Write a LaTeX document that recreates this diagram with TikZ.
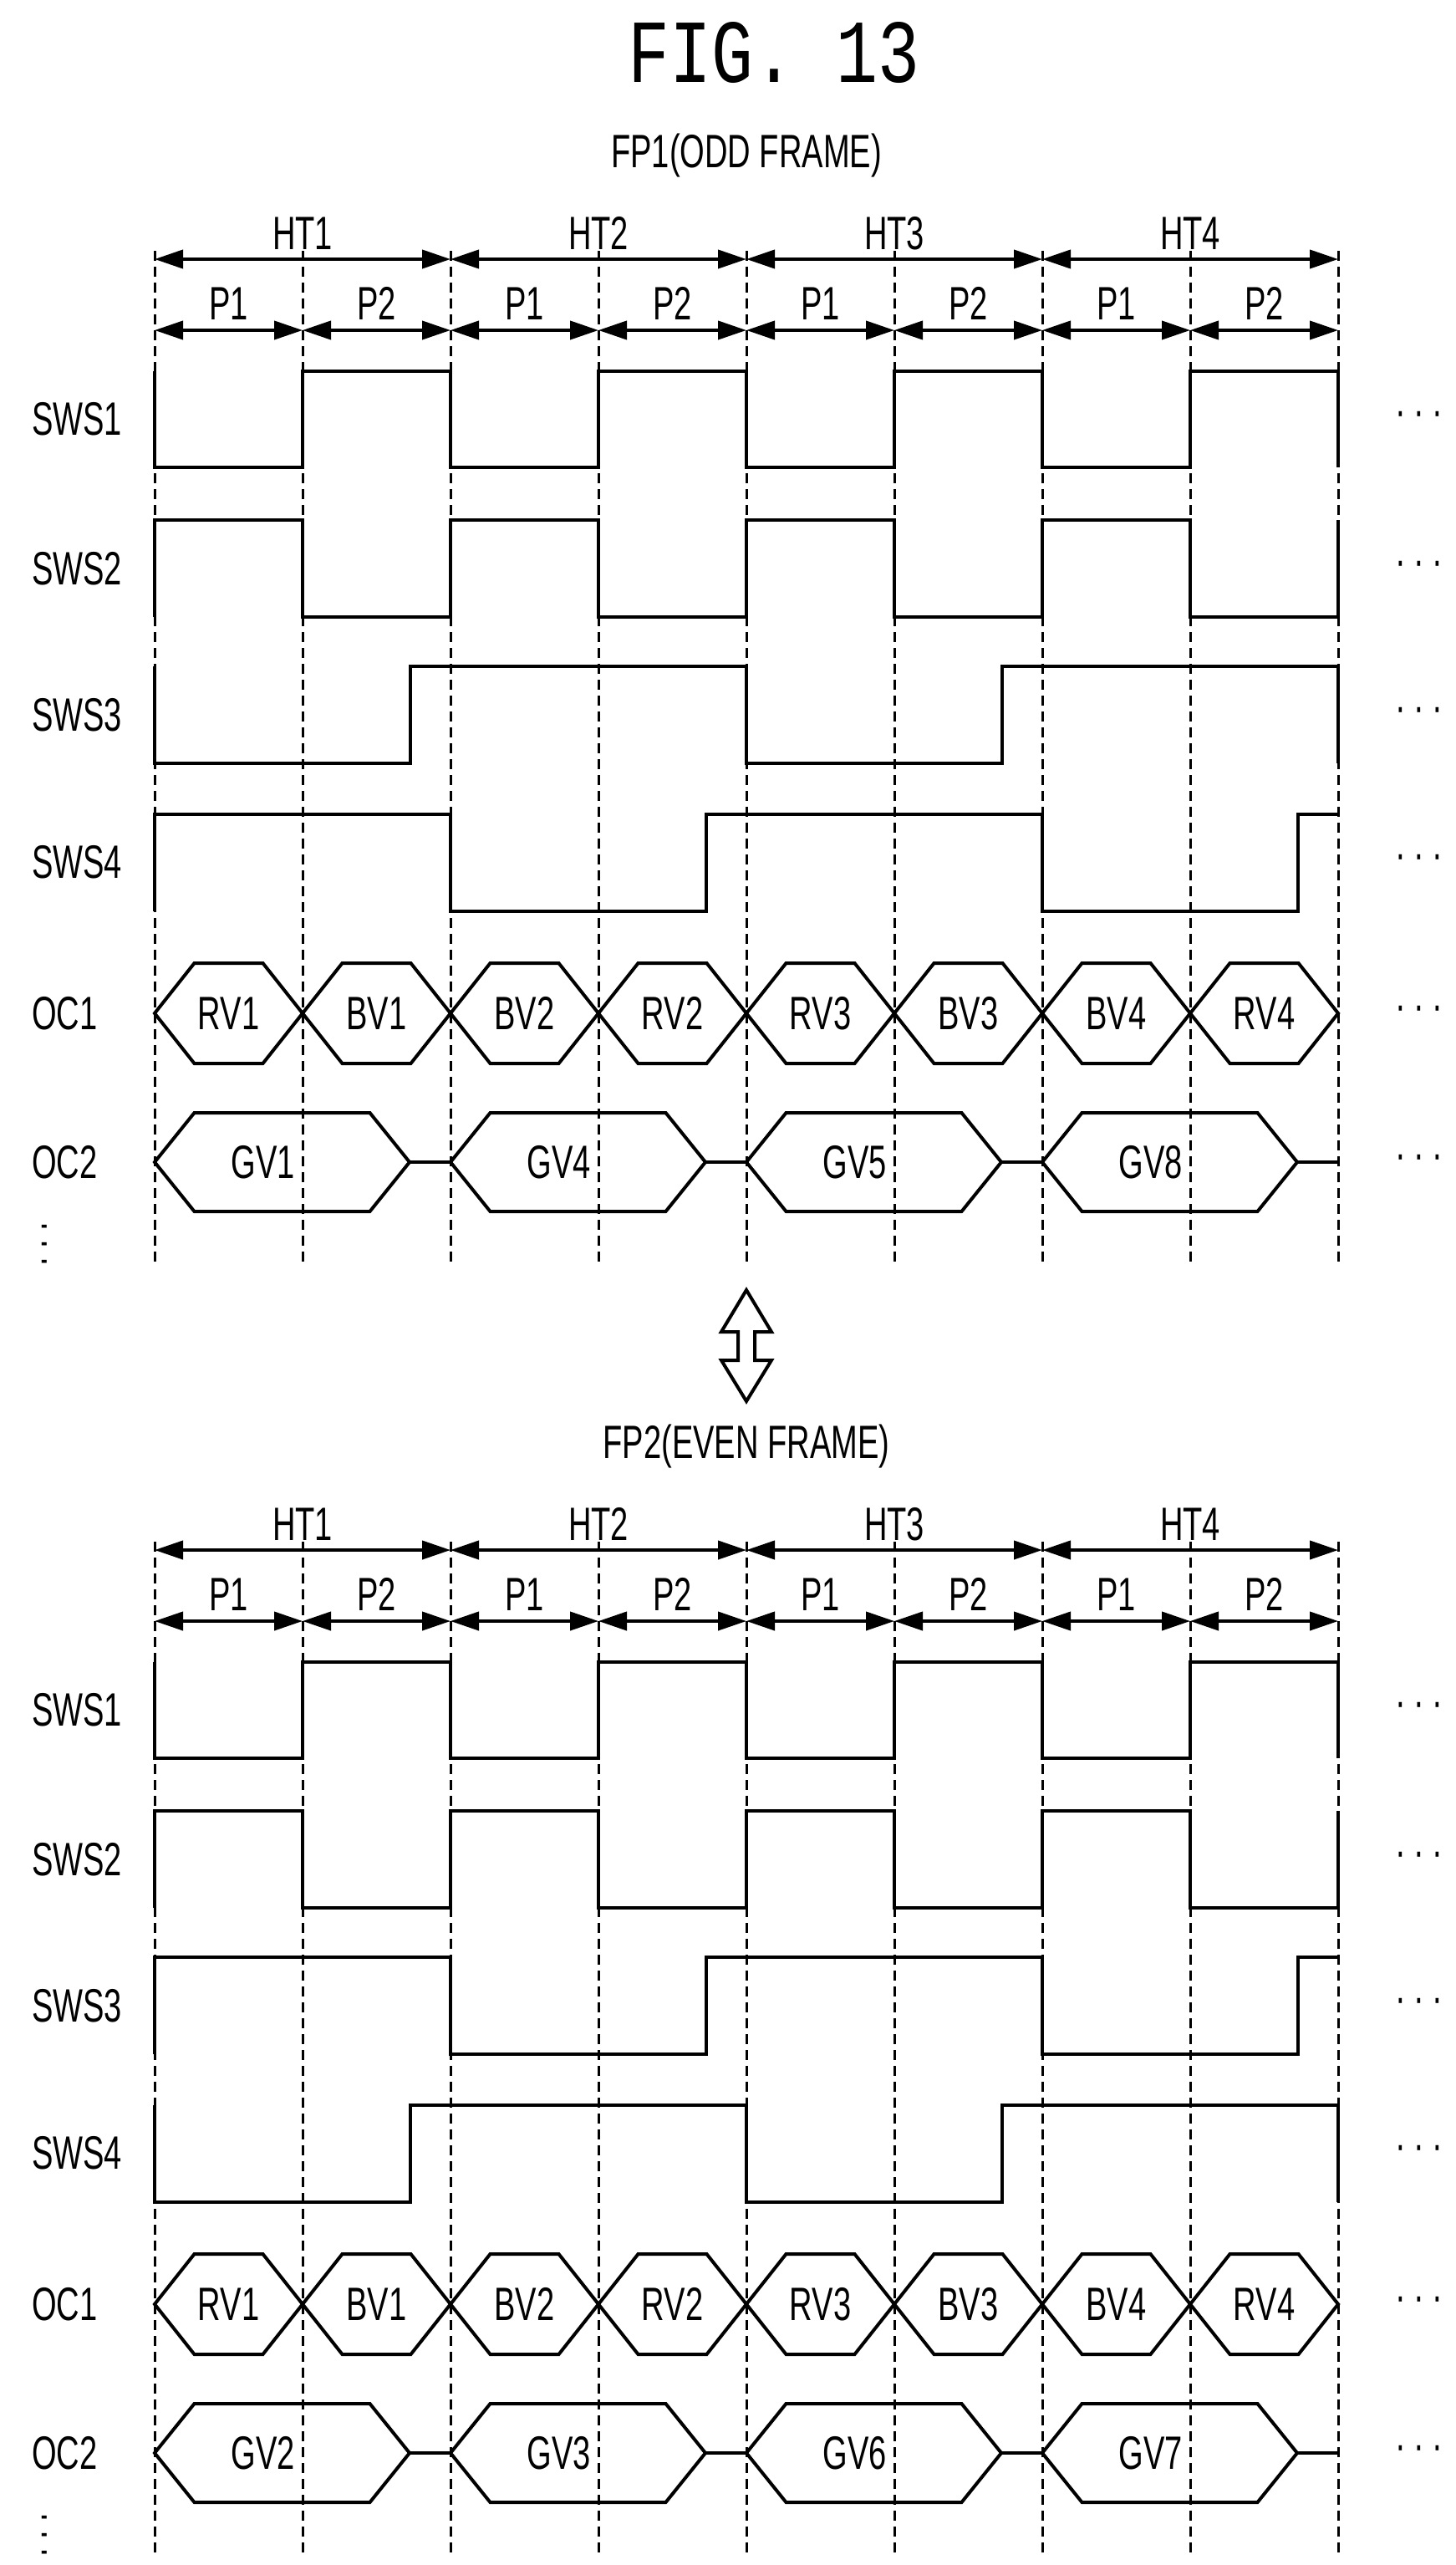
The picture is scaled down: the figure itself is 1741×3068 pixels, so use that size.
\documentclass[tikz,border=0pt]{standalone}
\usepackage{fontspec}
\setmainfont{Liberation Sans}[FakeStretch=0.68]
\newfontfamily\titlefont{Liberation Mono}
\usetikzlibrary{arrows.meta}
\begin{document}
\begin{tikzpicture}[x=1pt,y=-1pt,
  sig/.style={line width=4pt,line join=miter},
  grid/.style={line width=3pt,dash pattern=on 12pt off 7pt},
  dim/.style={line width=4pt,{Triangle[length=34pt,width=22pt]}-{Triangle[length=34pt,width=22pt]}},
  lab/.style={font=\fontsize{56}{62}\selectfont,inner sep=0pt},
  dots/.style={font=\fontsize{56}{62}\selectfont,inner sep=0pt}]
\useasboundingbox (0,0) rectangle (1741,3068);
\node[inner sep=0pt] (fig) at (926,63) {\resizebox{349pt}{72pt}{\titlefont FIG.~13}};

\newcommand\myframe[5]{%
\begin{scope}[yshift=-#1pt]
\node[lab] (ttl#1) at (893,186) {#2};
\foreach \i in {0,...,8}{\draw[grid] ({185+177*\i},300) -- ({185+177*\i},1515);}
\foreach \i/\t in {0/HT1,1/HT2,2/HT3,3/HT4}{
  \coordinate (ha\i#1) at ({185+354*\i},310);
  \coordinate (hb\i#1) at ({539+354*\i},310);
  \draw[dim] (ha\i#1) -- (hb\i#1);
  \node[lab] (ht\i#1) at ({362+354*\i},279) {\t};}
\foreach \i in {0,...,7}{
  \pgfmathtruncatemacro\pp{mod(\i,2)+1}
  \coordinate (pa\i#1) at ({185+177*\i},395);
  \coordinate (pb\i#1) at ({362+177*\i},395);
  \draw[dim] (pa\i#1) -- (pb\i#1);
  \node[lab] (p\i#1) at ({273.5+177*\i},363) {P\pp};}
\node[lab,anchor=west] (s1#1) at (38,501) {SWS1};
\node[lab,anchor=west] (s2#1) at (38,680) {SWS2};
\node[lab,anchor=west] (s3#1) at (38,855) {SWS3};
\node[lab,anchor=west] (s4#1) at (38,1031) {SWS4};
\node[lab,anchor=west] (o1#1) at (38,1212) {OC1};
\node[lab,anchor=west] (o2#1) at (38,1390) {OC2};
\node[dots,rotate=90] (vd#1) at (59,1488) {·\kern8pt·\kern8pt·};
\foreach \yy/\n in {501/a,680/b,855/c,1031/d,1212/e,1390/f}{\node[dots] (el\n#1) at (1698,\yy) {·\kern9pt·\kern9pt·};}
\draw[sig] (185,444)--(185,559)--(362,559)--(362,444)--(539,444)--(539,559)--(716,559)--(716,444)--(893,444)--(893,559)--(1070,559)--(1070,444)--(1247,444)--(1247,559)--(1424,559)--(1424,444)--(1601,444)--(1601,559);
\draw[sig] (185,738)--(185,622)--(362,622)--(362,738)--(539,738)--(539,622)--(716,622)--(716,738)--(893,738)--(893,622)--(1070,622)--(1070,738)--(1247,738)--(1247,622)--(1424,622)--(1424,738)--(1601,738)--(1601,622);
\draw[sig] (185,#3)--(185,{#3+116})--(491,{#3+116})--(491,#3)--(893,#3)--(893,{#3+116})--(1199,{#3+116})--(1199,#3)--(1601,#3)--(1601,{#3+116});
\draw[sig] (185,{#4+116})--(185,#4)--(539,#4)--(539,{#4+116})--(845,{#4+116})--(845,#4)--(1247,#4)--(1247,{#4+116})--(1553,{#4+116})--(1553,#4)--(1601,#4);
\foreach \i/\t in {0/RV1,1/BV1,2/BV2,3/RV2,4/RV3,5/BV3,6/BV4,7/RV4}{
  \pgfmathsetmacro\xa{185+177*\i}\pgfmathsetmacro\xb{\xa+177}
  \draw[sig] (\xa,1212)--(\xa+47.5,1152)--(\xb-47.5,1152)--(\xb,1212)--(\xb-47.5,1272)--(\xa+47.5,1272)--cycle;
  \node[lab] (oc\i#1) at ({\xa+88.5},1212) {\t};}
\foreach \i/\t in {#5}{
  \pgfmathsetmacro\xa{185+354*\i}\pgfmathsetmacro\xb{\xa+305}
  \draw[sig] (\xa,1390)--(\xa+47.5,1331)--(\xb-47.5,1331)--(\xb,1390)--(\xb-47.5,1449)--(\xa+47.5,1449)--cycle;
  \draw[sig] (\xb,1390)--(\xa+354,1390);
  \node[lab] (gv\i#1) at ({315+354*\i},1390) {\t};}
\end{scope}}

\myframe{0}{FP1(ODD FRAME)}{797}{974}{0/GV1,1/GV4,2/GV5,3/GV8}
\draw[line width=4pt,line join=miter] (893,1543)--(923,1593)--(903,1593)--(903,1627)--(923,1627)--(893,1676)--(863,1627)--(883,1627)--(883,1593)--(863,1593)--cycle;
\myframe{1544}{FP2(EVEN FRAME)}{974}{797}{0/GV2,1/GV3,2/GV6,3/GV7}
\end{tikzpicture}
\end{document}
